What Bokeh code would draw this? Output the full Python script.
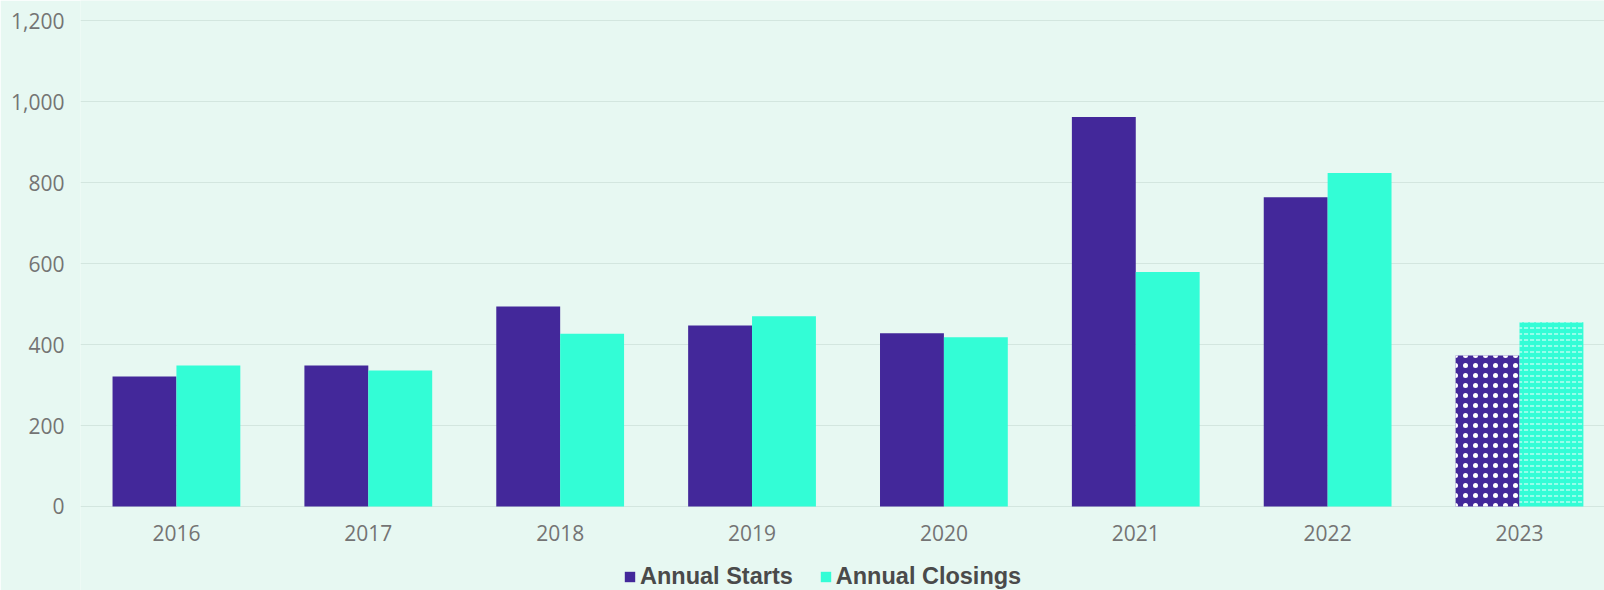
from bokeh.plotting import figure
from bokeh.models import (ColumnDataSource, Range1d, FixedTicker, NumeralTickFormatter,
                          Legend, LegendItem)
from bokeh.transform import dodge
from bokeh.embed import file_html
from bokeh.resources import INLINE

years = ["2016", "2017", "2018", "2019", "2020", "2021", "2022", "2023"]
annual_starts = [321, 348, 494, 447, 428, 962, 764, 373]
annual_closings = [348, 336, 427, 470, 418, 579, 824, 455]
projected = [False, False, False, False, False, False, False, True]
y_ticks = [0, 200, 400, 600, 800, 1000, 1200]

BG = "#E7F8F2"
PURPLE = "#43289A"
AQUA = "#33FDD6"

idx = list(range(len(years)))
actual = [i for i in idx if not projected[i]]
proj = [i for i in idx if projected[i]]

src_a = ColumnDataSource(dict(x=actual,
                              starts=[annual_starts[i] for i in actual],
                              closings=[annual_closings[i] for i in actual]))
src_p = ColumnDataSource(dict(x=proj,
                              starts=[annual_starts[i] for i in proj],
                              closings=[annual_closings[i] for i in proj]))

# frame spans the full height; value 0 sits at y=506 px, the area below holds labels + legend
p = figure(width=1604, height=590, output_backend="svg", toolbar_location=None,
           x_range=Range1d(-0.5, 7.443), y_range=Range1d(-207.6, 1250),
           min_border_left=80, min_border_right=0, min_border_top=0, min_border_bottom=0,
           background_fill_color=BG, border_fill_color=BG, outline_line_color=None)

bw = 0.333
r1 = p.vbar(x=dodge("x", -bw / 2, range=p.x_range), top="starts", bottom=0, width=bw,
            source=src_a, fill_color=PURPLE, line_color=None)
r2 = p.vbar(x=dodge("x", bw / 2, range=p.x_range), top="closings", bottom=0, width=bw,
            source=src_a, fill_color=AQUA, line_color=None)
p.vbar(x=dodge("x", -bw / 2, range=p.x_range), top="starts", bottom=0, width=bw, source=src_p,
       fill_color=PURPLE, line_color=None, hatch_pattern="dot", hatch_color="white",
       hatch_scale=10, hatch_weight=1.0)
p.vbar(x=dodge("x", bw / 2, range=p.x_range), top="closings", bottom=0, width=bw, source=src_p,
       fill_color=AQUA, line_color=None, hatch_pattern="horizontal_dash", hatch_color="white",
       hatch_scale=6, hatch_weight=1.2, hatch_alpha=0.8)

# axes
p.xaxis.fixed_location = 0
p.xaxis.ticker = FixedTicker(ticks=idx)
p.xaxis.major_label_overrides = {i: y for i, y in zip(idx, years)}
p.xaxis.axis_line_color = None
p.xaxis.major_tick_line_color = None
p.xaxis.minor_tick_line_color = None
p.xaxis.major_label_standoff = 13
p.xaxis.major_label_text_font = "Open Sans"
p.xaxis.major_label_text_font_size = "21px"
p.xaxis.major_label_text_color = "#747474"

p.yaxis.ticker = FixedTicker(ticks=y_ticks)
p.yaxis.formatter = NumeralTickFormatter(format="0,0")
p.yaxis.axis_line_color = None
p.yaxis.major_tick_line_color = None
p.yaxis.minor_tick_line_color = None
p.yaxis.major_label_standoff = 10
p.yaxis.major_label_text_font = "Open Sans"
p.yaxis.major_label_text_font_size = "21px"
p.yaxis.major_label_text_color = "#747474"

p.xgrid.grid_line_color = None
p.ygrid.ticker = FixedTicker(ticks=y_ticks)
p.ygrid.grid_line_color = "#D3E6DF"
p.ygrid.grid_line_width = 1

legend = Legend(items=[LegendItem(label="Annual Starts", renderers=[r1]),
                       LegendItem(label="Annual Closings", renderers=[r2])],
                orientation="horizontal", location=(543, 0),
                glyph_width=13, glyph_height=13, label_standoff=4, spacing=26,
                padding=0, margin=0, border_line_color=None, background_fill_alpha=0,
                label_text_font="Liberation Sans", label_text_font_style="bold",
                label_text_font_size="23.5px", label_text_color="#4A4A4A", label_height=20)
p.add_layout(legend, "center")

open("out.html", "w").write(file_html(p, INLINE))
